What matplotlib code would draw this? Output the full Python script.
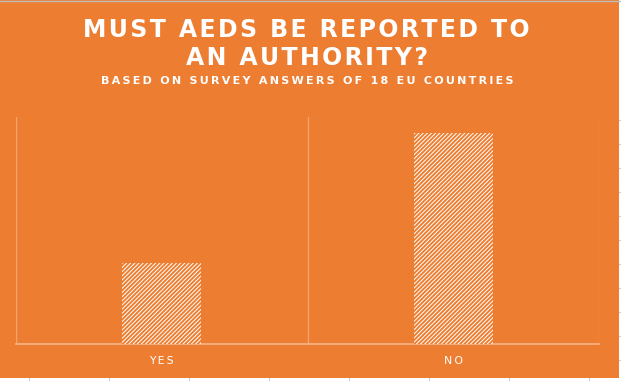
import matplotlib
matplotlib.use("Agg")
import matplotlib.pyplot as plt
from matplotlib.lines import Line2D
from matplotlib.patches import Rectangle

# ── colours ──────────────────────────────────────────────────────────────────
ORANGE = "#ED7D31"
WHITE  = "#FFFFFF"
GRID   = "#F4A36C"
AXIS   = "#F6B58A"

# ── data ─────────────────────────────────────────────────────────────────────
categories = ["YES", "NO"]
counts = [5, 13]


def spaced(s, sep):
    # poor man's letter spacing
    return sep.join(s)


plt.rcParams["hatch.linewidth"] = 1.4

fig = plt.figure(figsize=(6.21, 3.81), dpi=100)
fig.patch.set_facecolor(ORANGE)

# sheet edges (white strip bottom/right, with faint cell borders)
fig.patches.append(Rectangle((0, 0), 1, 3 / 381, transform=fig.transFigure,
                             facecolor=WHITE, edgecolor="none", zorder=0))
fig.patches.append(Rectangle((619 / 621, 0), 2 / 621, 1, transform=fig.transFigure,
                             facecolor=WHITE, edgecolor="none", zorder=0))
for x in range(29, 621, 80):
    fig.lines.append(Line2D([x / 621, x / 621], [0, 3 / 381], transform=fig.transFigure,
                            color="#D0D0D0", linewidth=0.8))
for y in range(120, 378, 24):
    fig.lines.append(Line2D([619 / 621, 1], [1 - y / 381, 1 - y / 381], transform=fig.transFigure,
                            color="#D0D0D0", linewidth=0.8))
fig.lines.append(Line2D([0, 1], [1 - 0.5 / 381, 1 - 0.5 / 381], transform=fig.transFigure,
                        color="#BDBDBD", linewidth=1.0))

ax = fig.add_axes([16 / 621, 1 - 344 / 381, 583 / 621, 227 / 381])
ax.set_facecolor(ORANGE)

x = list(range(len(categories)))
ax.bar(x, counts, width=0.27, color=WHITE, edgecolor=ORANGE, linewidth=0,
       hatch="////////", zorder=3)

ax.set_xlim(-0.5, len(categories) - 0.5)
ax.set_ylim(0, 14)

# vertical separators between categories
for b in [-0.5 + i for i in range(len(categories) + 1)]:
    ax.axvline(b, color=GRID, linewidth=1.0, zorder=1)

for s in ["top", "left", "right"]:
    ax.spines[s].set_visible(False)
ax.spines["bottom"].set_color(AXIS)
ax.spines["bottom"].set_linewidth(1.2)

ax.set_yticks([])
ax.set_xticks(x)
ax.set_xticklabels([spaced(c, "\u2009") for c in categories], color=WHITE, fontsize=7.8)
ax.tick_params(axis="x", length=0, pad=9)

fig.text(0.494, 1 - 30 / 381, spaced("MUST AEDS BE REPORTED TO", "\u200a"), ha="center",
         va="center", color=WHITE, fontsize=17, fontweight="bold")
fig.text(0.494, 1 - 58 / 381, spaced("AN AUTHORITY?", "\u200a"), ha="center", va="center",
         color=WHITE, fontsize=17, fontweight="bold")
fig.text(0.494, 1 - 81 / 381, spaced("BASED ON SURVEY ANSWERS OF 18 EU COUNTRIES", "\u2009"),
         ha="center", va="center", color=WHITE, fontsize=8, fontweight="bold")

fig.savefig("out.png", dpi=100, facecolor=ORANGE)
